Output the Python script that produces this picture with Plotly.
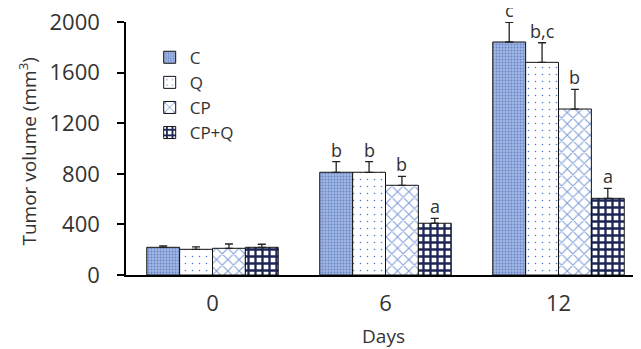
import plotly.graph_objects as go

days = ["0", "6", "12"]
series_names = ["C", "Q", "CP", "CP+Q"]
c_vals = [219, 812, 1842]
c_err = [12, 84, 156]
q_vals = [203, 812, 1681]
q_err = [20, 84, 155]
cp_vals = [211, 709, 1312]
cp_err = [34, 71, 156]
cpq_vals = [219, 409, 606]
cpq_err = [24, 39, 79]
c_letters = ["", "b", "c"]
q_letters = ["", "b", "b,c"]
cp_letters = ["", "b", "b"]
cpq_letters = ["", "a", "a"]
y_title = "Tumor volume (mm<sup>3</sup>)"
x_title = "Days"

values = [c_vals, q_vals, cp_vals, cpq_vals]
errors = [c_err, q_err, cp_err, cpq_err]
letters = [c_letters, q_letters, cp_letters, cpq_letters]

patterns = [
    dict(shape=".", bgcolor="#a2b7e2", fgcolor="#6584c9", size=3, solidity=0.3, fillmode="replace"),
    dict(shape=".", bgcolor="#ffffff", fgcolor="#4f7bd0", size=7, solidity=0.04, fillmode="replace"),
    dict(shape="x", bgcolor="#ffffff", fgcolor="#7f9ed8", size=8, solidity=0.25, fillmode="replace"),
    dict(shape="+", bgcolor="#ffffff", fgcolor="#1e2655", size=7, solidity=0.55, fillmode="replace"),
]

FONT = "Open Sans"
TXT = "#333333"
BARGAP = 0.24
n_series = len(series_names)
bar_w = (1 - BARGAP) / n_series

fig = go.Figure()
for i, name in enumerate(series_names):
    fig.add_trace(go.Bar(
        name=name, x=days, y=values[i], offsetgroup=str(i),
        marker=dict(color=patterns[i]["bgcolor"], pattern=patterns[i],
                    line=dict(color="#111111", width=1)),
        error_y=dict(type="data", symmetric=False, array=errors[i],
                     arrayminus=[0] * len(errors[i]), color="#222222",
                     thickness=1.3, width=4),
    ))

annotations = []
for i in range(n_series):
    for k, t in enumerate(letters[i]):
        if not t:
            continue
        annotations.append(dict(
            text=t, xref="x", yref="y",
            x=k + (i - (n_series - 1) / 2) * bar_w, y=values[i][k] + errors[i][k],
            xanchor="center", yanchor="middle", yshift=12, showarrow=False,
            font=dict(family=FONT, size=18, color=TXT)))
annotations.append(dict(text=y_title, xref="paper", yref="paper",
                        x=(20 - 118) / 515, y=0.488, xanchor="center", yanchor="middle",
                        textangle=-90, showarrow=False,
                        font=dict(family=FONT, size=19, color=TXT)))

# page body has an 8px default margin, so the figure is sized 633x341
fig.update_layout(
    width=633, height=341,
    margin=dict(l=118, r=0, t=14, b=74, autoexpand=False),
    paper_bgcolor="white", plot_bgcolor="white",
    barmode="group", bargap=BARGAP, bargroupgap=0,
    font=dict(family=FONT, color=TXT, size=17),
    legend=dict(x=0.046, y=0.93, xanchor="left", yanchor="top",
                bgcolor="rgba(0,0,0,0)", font=dict(size=17, color=TXT),
                itemwidth=30, tracegroupgap=0),
    xaxis=dict(type="category", range=[-0.5, 2.5 - 4 / 173], automargin=False,
               showline=True, linecolor="#000000", linewidth=2,
               ticks="", tickfont=dict(size=22, color=TXT),
               ticklabelstandoff=8,
               title=dict(text=x_title, font=dict(size=19, color=TXT), standoff=14),
               showgrid=False, zeroline=False),
    yaxis=dict(range=[0, 2000], tickvals=[0, 400, 800, 1200, 1600, 2000], automargin=False,
               showline=True, linecolor="#000000", linewidth=1.5,
               ticks="outside", ticklen=7, tickcolor="#000000", tickwidth=1.5,
               ticklabelstandoff=13, ticklabeloverflow="allow",
               tickfont=dict(size=22, color=TXT),
               showgrid=False, zeroline=False),
    annotations=annotations,
)

fig.write_html("out.html")
